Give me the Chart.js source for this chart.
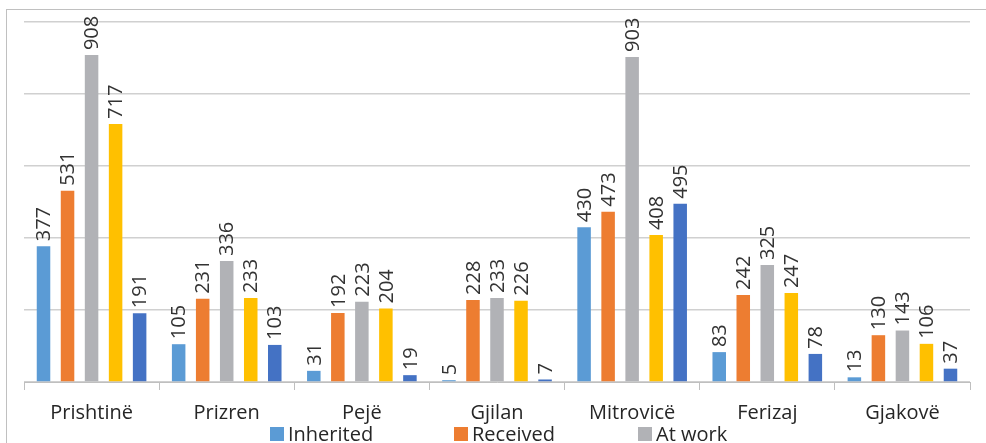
<!DOCTYPE html>
<html>
<head>
<meta charset="utf-8">
<script src="https://cdn.jsdelivr.net/npm/chart.js@4/dist/chart.umd.min.js"></script>
<style>
  html, body { margin: 0; padding: 0; background: #fff; overflow: hidden; }
  #frame { position: absolute; left: 6px; top: 9px; width: 1100px; height: 600px;
           border-left: 1px solid #c0c0c0; border-top: 1px solid #c0c0c0; }
  #wrap { position: absolute; left: 0; top: 0; width: 986px; height: 443px; }
  #legend { position: absolute; left: 270px; top: 424px; display: flex;
            font: 20px/20px "Open Sans", sans-serif; color: #262626; }
  #legend .item { width: 184px; display: flex; align-items: center; }
  #legend .box { width: 14px; height: 14px; margin-right: 4px; }
</style>
</head>
<body>
<div id="frame"></div>
<div id="wrap"><canvas id="chart"></canvas></div>
<div id="legend"></div>
<script>
// Catégories et séries
const cities = ['Prishtinë', 'Prizren', 'Pejë', 'Gjilan', 'Mitrovicë', 'Ferizaj', 'Gjakovë'];
const inherited = [377, 105, 31, 5, 430, 83, 13];
const received = [531, 231, 192, 228, 473, 242, 130];
const atWork = [908, 336, 223, 233, 903, 325, 143];
const fourth = [717, 233, 204, 226, 408, 247, 106];
const fifth = [191, 103, 19, 7, 495, 78, 37];
const yTicks = [0, 200, 400, 600, 800, 1000];

const seriesNames = ['Inherited', 'Received', 'At work', 'Bought', 'Other'];
const seriesColors = ['#5B9BD5', '#ED7D31', '#B1B2B6', '#FFC000', '#4472C4'];
const seriesData = [inherited, received, atWork, fourth, fifth];

// Plugin pour les étiquettes verticales au-dessus des barres
const barLabels = {
    id: 'barLabels',
    afterDatasetsDraw(chart) {
        const ctx = chart.ctx;
        ctx.save();
        ctx.fillStyle = '#333333';
        ctx.font = '20px "Open Sans"';
        ctx.textAlign = 'left';
        ctx.textBaseline = 'middle';
        chart.data.datasets.forEach((ds, i) => {
            const meta = chart.getDatasetMeta(i);
            meta.data.forEach((bar, j) => {
                ctx.save();
                ctx.translate(bar.x, bar.y - 5);
                ctx.rotate(-Math.PI / 2);
                ctx.fillText(String(ds.data[j]), 0, 1);
                ctx.restore();
            });
        });
        ctx.restore();
    }
};

const ctx = document.getElementById('chart').getContext('2d');
new Chart(ctx, {
    type: 'bar',
    data: {
        labels: cities,
        datasets: seriesData.map((d, i) => ({
            label: seriesNames[i],
            data: d,
            backgroundColor: seriesColors[i],
            borderWidth: 0,
            categoryPercentage: 0.889,
            barPercentage: 0.5625
        }))
    },
    options: {
        responsive: true,
        maintainAspectRatio: false,
        animation: false,
        layout: { padding: { left: 24, right: 16, top: 22, bottom: 7 } },
        scales: {
            x: {
                grid: {
                    offset: true,
                    drawOnChartArea: false,
                    color: '#bfbfbf',
                    tickLength: 8
                },
                border: { display: true, color: '#bfbfbf', width: 1 },
                ticks: { color: '#262626', font: { family: 'Open Sans', size: 20 }, padding: 11 }
            },
            y: {
                min: 0,
                max: 1000,
                afterBuildTicks: axis => { axis.ticks = yTicks.map(v => ({ value: v })); },
                grid: { color: '#d0d0d0', lineWidth: 1.5, drawTicks: false },
                border: { display: false },
                ticks: { display: false }
            }
        },
        plugins: {
            legend: { display: false },
            tooltip: { enabled: false }
        }
    },
    plugins: [barLabels]
});

// Légende HTML : seules les trois premières entrées sont visibles dans l'image
const legend = document.getElementById('legend');
seriesNames.slice(0, 3).forEach((name, i) => {
    const item = document.createElement('div');
    item.className = 'item';
    item.innerHTML = `<span class="box" style="background:${seriesColors[i]}"></span><span>${name}</span>`;
    legend.appendChild(item);
});
</script>
</body>
</html>
